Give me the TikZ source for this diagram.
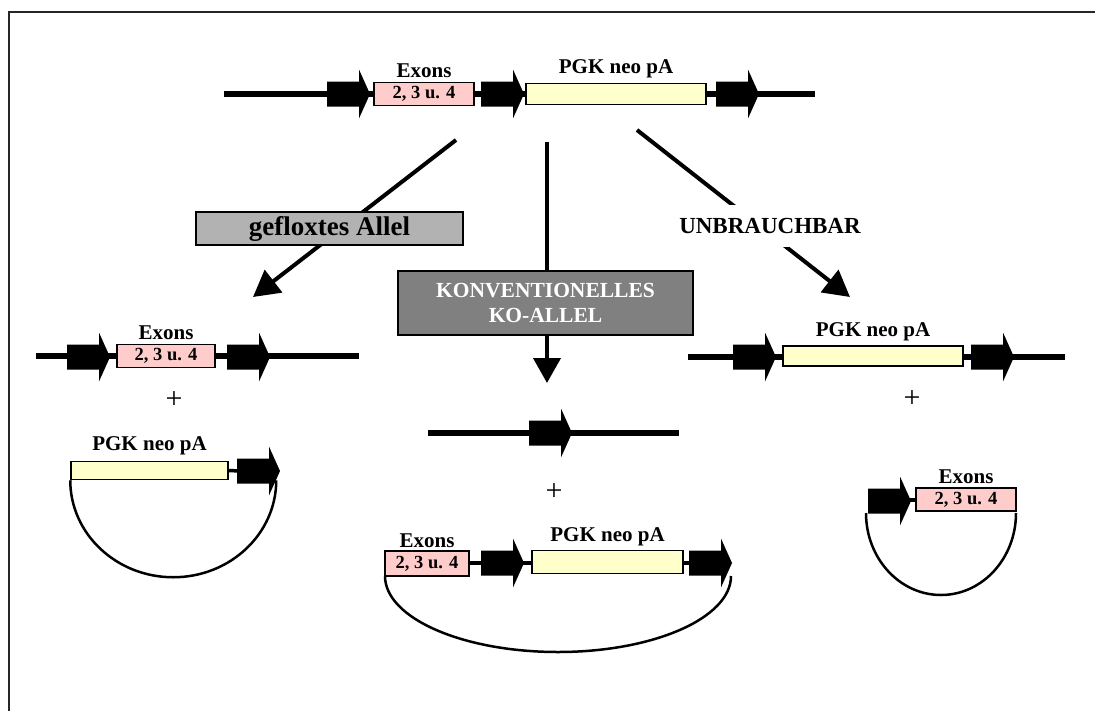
\documentclass[tikz,border=0pt]{standalone}
\usepackage{fontspec}
\setmainfont{Liberation Serif}
\usetikzlibrary{arrows.meta,calc}
\definecolor{exonpink}{HTML}{FFCCCC}
\definecolor{neoyellow}{HTML}{FFFFCC}
\definecolor{floxgray}{HTML}{B2B2B2}
\definecolor{kogray}{HTML}{808080}
\begin{document}
\begin{tikzpicture}[x=1pt,y=-1pt,
  dna/.style={line width=5.5pt},
  link/.style={line width=3.5pt},
  ring/.style={line width=2.5pt},
  exonbox/.style={draw, line width=1.5pt, fill=exonpink, inner sep=0pt,
    minimum height=23pt, font=\fontsize{18.5}{19}\selectfont\bfseries},
  neobox/.style={draw, line width=1.5pt, fill=neoyellow, inner sep=0pt, minimum height=21pt},
  lbl/.style={anchor=base, inner sep=0pt, font=\fontsize{21}{21}\selectfont\bfseries},
  plus/.style={inner sep=0pt, font=\fontsize{30}{30}\selectfont},
  flow/.style={line width=4pt, -{Triangle[length=26pt,width=28pt]}},
  loxp/.pic={\fill (0,-12.5) -- (32,-12.5) -- (32,-24.5) -- (43,0) -- (32,24.5) -- (32,12.5) -- (0,12.5) -- cycle;}
]
\useasboundingbox (0,0) rectangle (1095,710);
\clip (0,0) rectangle (1095,710);

% outer frame
\draw[line width=2pt, black!85] (9,730) -- (9,12) -- (1110,12);

% ---- targeting construct (top) ----
\coordinate (tL) at (224,94);
\coordinate (tR) at (815,94);
\draw[dna] (tL) -- (tR);
\pic at (327,94) {loxp};
\pic at (481,94) {loxp};
\pic at (716,94) {loxp};
\node[exonbox, minimum width=100pt] (tex) at (424,94) {2, 3 u. 4};
\node[lbl] (texl) at ($(tex.north)+(0,-4)$) {Exons};
\node[neobox, minimum width=180pt] (tneo) at (616,94) {};
\node[lbl] (tneol) at ($(tneo.north)+(0,-9)$) {PGK neo pA};

% ---- recombination outcomes ----
\coordinate (ls) at (456,140);
\coordinate (lt) at (253,297);
\draw[flow] (ls) -- (lt);
\node[draw, line width=1.5pt, fill=floxgray, minimum width=267pt, minimum height=33pt,
  inner sep=0pt, font=\fontsize{27}{27}\selectfont\bfseries] (flox) at (329.5,228.5) {gefloxtes Allel};

\coordinate (cs) at (547,142);
\coordinate (ct) at (547,383);
\draw[line width=4pt, -{Triangle[length=25pt,width=27pt]}] (cs) -- (ct);
\node[draw, line width=1.5pt, fill=kogray, text=white, align=center, minimum width=295pt,
  minimum height=64pt, inner sep=0pt,
  font=\fontsize{21.5}{25}\selectfont\bfseries] (ko) at (545.5,303) {KONVENTIONELLES\\KO-ALLEL};

\coordinate (rs) at (637,130);
\coordinate (rt) at (850,297);
\draw[flow] (rs) -- (rt);
\node[fill=white, inner xsep=2pt, inner ysep=13pt,
  font=\fontsize{23}{23}\selectfont\bfseries] (unb) at (770,226) {UNBRAUCHBAR};

% ---- left: floxed allele + excised circle ----
\draw[dna] (36,356) -- (359,356);
\pic at (67,357) {loxp};
\pic at (227,357) {loxp};
\node[exonbox, minimum width=98pt] (lex) at (166,356) {2, 3 u. 4};
\node[lbl] (lexl) at ($(lex.north)+(0,-4)$) {Exons};
\node[plus] (lplus) at (174,400) {+};
\node[neobox, minimum width=157pt, minimum height=18pt] (lneo) at (149.5,470.5) {};
\draw[ring] (lneo.south west) arc[start angle=180, end angle=0, x radius=103, y radius=97];
\draw[link] (lneo.east) -- (240,471);
\pic at (237,471) {loxp};
\node[neobox, minimum width=157pt, minimum height=18pt] at (lneo) {};
\node[lbl] (lneol) at ($(lneo.north)+(0,-10)$) {PGK neo pA};

% ---- centre: conventional knockout allele + excised circle ----
\draw[dna] (428,433) -- (679,433);
\pic at (529,433) {loxp};
\node[plus] (cplus) at (554,492) {+};
\draw[ring] (385,576) arc[start angle=180, end angle=0, x radius=173, y radius=76];
\draw[link] (430,563) -- (692,563);
\pic at (481,563) {loxp};
\pic at (689,563) {loxp};
\node[exonbox, minimum width=84pt, minimum height=25pt] (cex) at (427,563.5) {2, 3 u. 4};
\node[lbl] (cexl) at ($(cex.north)+(0,-3)$) {Exons};
\node[neobox, minimum width=151pt, minimum height=23pt] (cneo) at (607.5,562) {};
\node[lbl] (cneol) at ($(cneo.north)+(0,-8)$) {PGK neo pA};

% ---- right: unusable product + excised circle ----
\draw[dna] (688,357) -- (1065,357);
\pic at (733,357) {loxp};
\pic at (971,357) {loxp};
\node[neobox, minimum width=180pt, minimum height=20pt] (rneo) at (873,356) {};
\node[lbl] (rneol) at ($(rneo.north)+(0,-9)$) {PGK neo pA};
\node[plus] (rplus) at (912,399) {+};
\draw[ring] (866,513) arc[start angle=180, end angle=0, x radius=75, y radius=82];
\draw[link] (870,500) -- (960,500);
\pic at (868,501) {loxp};
\node[exonbox, minimum width=100pt] (rex) at (966,499.5) {2, 3 u. 4};
\node[lbl] (rexl) at ($(rex.north)+(0,-4)$) {Exons};
\end{tikzpicture}
\end{document}
